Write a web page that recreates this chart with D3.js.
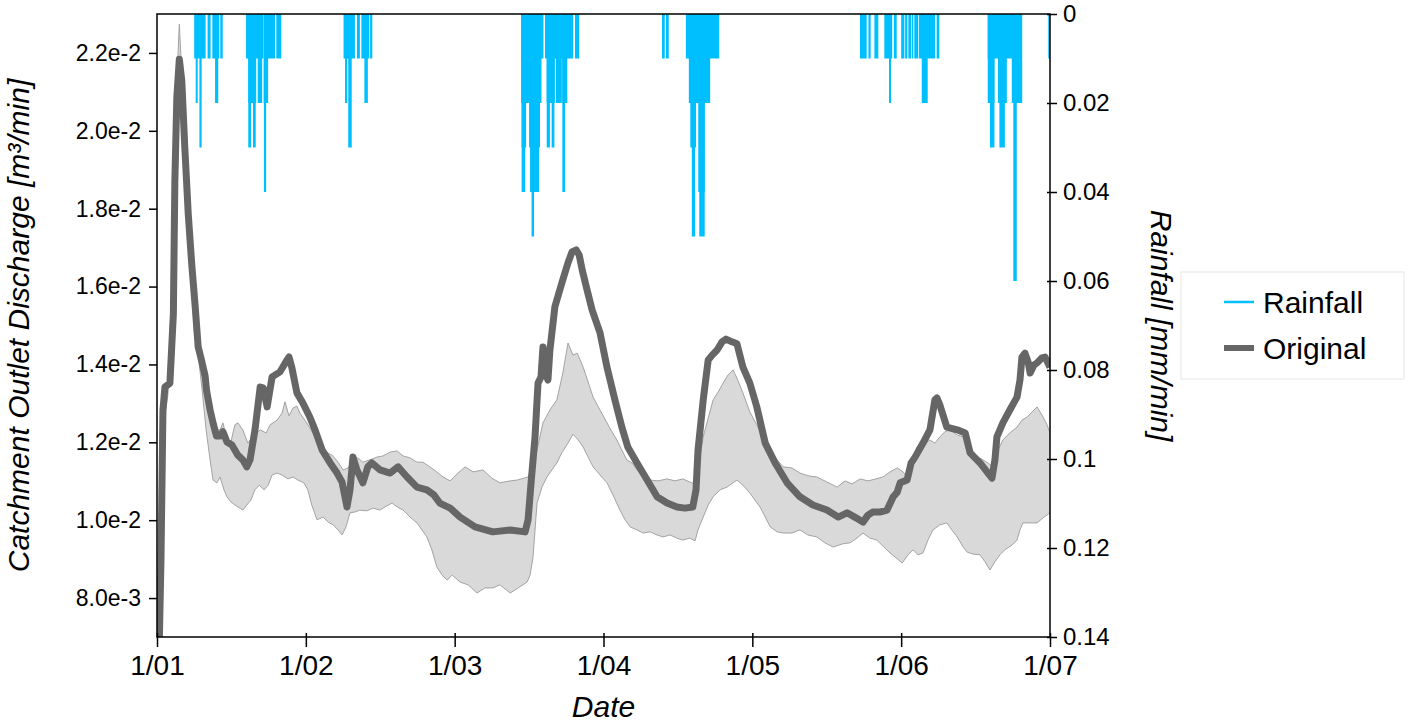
<!DOCTYPE html>
<html>
<head>
<meta charset="utf-8">
<script src="https://cdn.jsdelivr.net/npm/d3@7"></script>
<style>
  body { margin: 0; background: #fff; }
  text { font-family: "Liberation Sans", Arial, Helvetica, sans-serif; fill: #000; }
</style>
</head>
<body>
<script>
// x = days since 1/01 (the axis shows evenly spaced months, 30 days each)
var dayTicks = [0, 30, 60, 90, 120, 150, 180];
var dayLabels = ["1/01", "1/02", "1/03", "1/04", "1/05", "1/06", "1/07"];
var flowTicks = [0.008, 0.010, 0.012, 0.014, 0.016, 0.018, 0.020, 0.022];
var rainTicks = [0, 0.02, 0.04, 0.06, 0.08, 0.1, 0.12, 0.14];
var rainTickLabels = ["0", "0.02", "0.04", "0.06", "0.08", "0.1", "0.12", "0.14"];

// Original discharge [m3/min]
var original = [
  [0,0.0040],[0.8,0.00898],[1.2,0.01283],[1.6,0.01342],[2.6,0.01352],[3.3,0.01530],[3.6,0.01871],[4.0,0.02087],
  [4.5,0.02184],[5.0,0.02128],[5.6,0.01958],[6.3,0.01786],[7.0,0.01658],[7.7,0.01548],[8.3,0.01445],[9.0,0.01409],
  [9.7,0.01370],[10.0,0.01332],[10.7,0.01283],[11.35,0.01247],[12.0,0.01216],[12.7,0.01216],[13.3,0.01227],[14.1,0.01201],
  [15.1,0.01193],[16.3,0.01167],[17.3,0.01155],[18.1,0.01137],[18.75,0.01155],[19.75,0.01232],[20.8,0.01342],[21.4,0.01340],
  [22.2,0.01291],[23.2,0.01368],[24.8,0.01381],[26.2,0.01411],[26.6,0.01419],[27.2,0.01391],[28.2,0.01327],[29.4,0.01301],
  [30.8,0.01265],[31.85,0.01232],[33.3,0.01180],[34.9,0.01147],[36.3,0.01121],[37.3,0.01098],[38.3,0.01034],[38.9,0.01078],
  [39.5,0.01162],[40.3,0.01129],[41.5,0.01096],[42.5,0.01137],[43.3,0.01147],[44.95,0.01129],[47.0,0.01121],[48.6,0.01137],
  [50.4,0.01111],[52.4,0.01085],[54.4,0.01078],[55.8,0.01065],[57.0,0.01044],[59.1,0.01031],[61.1,0.01008],[64.1,0.00983],
  [67.7,0.00970],[71.2,0.00975],[74.2,0.00970],[74.8,0.01001],[75.4,0.01096],[76.2,0.01214],[76.8,0.01352],[77.4,0.01368],
  [77.8,0.01445],[78.4,0.01373],[78.8,0.01360],[79.2,0.01437],[80.2,0.01548],[81.6,0.01609],[82.85,0.01661],[83.65,0.01689],
  [84.5,0.01694],[85.1,0.01681],[85.7,0.01643],[86.7,0.01591],[87.7,0.01540],[89.3,0.01481],[90.7,0.01393],[92.3,0.01309],
  [93.7,0.01239],[94.9,0.01188],[96.75,0.01147],[98.8,0.01103],[100.8,0.01060],[102.8,0.01044],[104.8,0.01034],[106.4,0.01031],
  [108.0,0.01034],[108.65,0.01078],[109.05,0.01180],[110.1,0.01309],[111.1,0.01411],[111.9,0.01424],[112.9,0.01437],[113.9,0.01458],
  [114.7,0.01465],[115.9,0.01458],[116.9,0.01453],[118.1,0.01393],[119.5,0.01352],[120.9,0.01291],[122.6,0.01198],[124.6,0.01147],
  [127.0,0.01096],[129.6,0.01060],[132.2,0.01039],[135.05,0.01026],[137.3,0.01008],[139.1,0.01019],[140.9,0.01006],[142.3,0.00995],
  [143.3,0.01013],[144.3,0.01021],[145.7,0.01021],[147.15,0.01026],[148.4,0.01060],[149.2,0.01072],[149.8,0.01096],[151.2,0.01103],
  [152.0,0.01147],[152.8,0.01162],[154.4,0.01198],[155.8,0.01232],[156.8,0.01309],[157.2,0.01314],[157.8,0.01296],[159.2,0.01239],
  [161.3,0.01232],[162.9,0.01224],[163.9,0.01173],[165.9,0.01147],[167.5,0.01121],[168.3,0.01108],[168.9,0.01155],[169.3,0.01214],
  [170.5,0.01250],[171.9,0.01283],[173.35,0.01316],[173.95,0.01360],[174.35,0.01419],[174.95,0.01429],[175.6,0.01406],[176.0,0.01378],
  [176.8,0.01399],[177.4,0.01404],[178.4,0.01417],[179.0,0.01419],[180,0.01393]
];

// upper edge of the grey band [m3/min]
var bandUpper = [
  [0,0.0054],[0.8,0.00847],[1.4,0.01309],[2.6,0.01365],[3.4,0.01745],[4.0,0.02131],[4.5,0.02274],[5.0,0.02143],
  [5.85,0.01951],[6.65,0.01720],[7.7,0.01540],[8.7,0.01437],[9.7,0.01373],[10.7,0.01283],[11.7,0.01232],[12.7,0.01232],
  [13.3,0.01250],[14.1,0.01206],[14.9,0.01201],[15.7,0.01245],[16.3,0.01250],[17.3,0.01232],[18.3,0.01198],[19.55,0.01219],
  [20.8,0.01232],[22.0,0.01224],[22.8,0.01245],[24.2,0.01257],[25.2,0.01275],[25.8,0.01304],[26.6,0.01268],[27.4,0.01288],
  [28.2,0.01293],[28.8,0.01275],[29.8,0.01257],[30.8,0.01237],[31.85,0.01214],[32.9,0.01193],[34.1,0.01175],[35.3,0.01167],
  [36.5,0.01149],[37.5,0.01129],[38.5,0.01134],[39.5,0.01155],[40.5,0.01160],[41.5,0.01149],[42.9,0.01155],[44.35,0.01162],
  [45.55,0.01165],[47.0,0.01175],[48.4,0.01178],[49.6,0.01165],[51.0,0.01160],[52.4,0.01149],[53.6,0.01149],[55.0,0.01137],
  [56.4,0.01124],[57.65,0.01111],[59.1,0.01101],[60.5,0.01119],[62.1,0.01137],[63.7,0.01124],[65.7,0.01129],[67.5,0.01108],
  [69.1,0.01096],[71.2,0.01101],[72.6,0.01103],[74.8,0.01111],[75.8,0.01142],[76.6,0.01180],[77.8,0.01250],[79.2,0.01283],
  [80.6,0.01309],[81.8,0.01378],[82.85,0.01455],[83.85,0.01424],[84.7,0.01429],[85.9,0.01393],[86.9,0.01355],[87.9,0.01316],
  [89.3,0.01283],[90.7,0.01250],[91.7,0.01227],[92.7,0.01206],[93.7,0.01180],[94.7,0.01155],[95.75,0.01147],[96.75,0.01129],
  [98.0,0.01114],[99.4,0.01103],[101.0,0.01101],[102.8,0.01106],[104.4,0.01101],[106.0,0.01106],[107.4,0.01098],[108.45,0.01093],
  [109.25,0.01142],[110.1,0.01214],[111.1,0.01262],[112.1,0.01309],[113.1,0.01329],[114.1,0.01352],[115.1,0.01373],[116.1,0.01386],
  [116.9,0.01365],[118.1,0.01327],[119.5,0.01278],[120.9,0.01245],[122.15,0.01211],[123.6,0.01180],[125.0,0.01155],[126.2,0.01137],
  [128.0,0.01134],[129.6,0.01121],[131.2,0.01114],[133.0,0.01111],[135.05,0.01098],[137.1,0.01085],[138.7,0.01101],[140.1,0.01093],
  [141.7,0.01106],[143.3,0.01101],[144.9,0.01106],[146.3,0.01111],[147.75,0.01124],[149.2,0.01134],[150.4,0.01124],[151.2,0.01111],
  [152.2,0.01155],[153.2,0.01188],[154.4,0.01193],[155.8,0.01206],[156.8,0.01198],[157.8,0.01214],[158.8,0.01227],[159.8,0.01232],
  [161.3,0.01219],[162.5,0.01214],[163.9,0.01188],[165.3,0.01162],[166.5,0.01155],[167.5,0.01147],[168.5,0.01137],[169.5,0.01180],
  [170.5,0.01206],[171.9,0.01224],[173.35,0.01239],[174.35,0.01257],[175.4,0.01265],[176.4,0.01278],[177.4,0.01291],[178.6,0.01265],
  [179.4,0.01245],[180,0.01224]
];

// lower edge of the grey band [m3/min]
var bandLower = [
  [0,0.0040],[0.8,0.00692],[1.2,0.01232],[2.2,0.01322],[3.0,0.01617],[3.8,0.02053],[4.5,0.02177],[5.0,0.02092],
  [5.85,0.01899],[6.65,0.01681],[7.5,0.01488],[8.3,0.01424],[9.1,0.01334],[9.9,0.01232],[10.7,0.01155],[11.3,0.01103],
  [12.1,0.01096],[12.7,0.01111],[13.5,0.01078],[14.1,0.01060],[14.9,0.01047],[15.7,0.01039],[16.7,0.01031],[17.3,0.01026],
  [18.1,0.01039],[18.95,0.01052],[19.75,0.01078],[20.6,0.01090],[21.6,0.01078],[22.4,0.01090],[23.2,0.01116],[24.2,0.01121],
  [25.2,0.01116],[26.4,0.01106],[27.4,0.01111],[28.4,0.01103],[29.6,0.01096],[30.4,0.01078],[31.2,0.01039],[32.25,0.01001],
  [33.5,0.01008],[34.5,0.00995],[35.5,0.00988],[36.5,0.00975],[37.3,0.00962],[38.1,0.00983],[38.9,0.01019],[39.9,0.01021],
  [40.9,0.01026],[42.3,0.01024],[43.5,0.01031],[44.95,0.01026],[46.2,0.01036],[47.4,0.01044],[48.4,0.01034],[49.6,0.01026],
  [51.0,0.01008],[52.4,0.00993],[53.4,0.00975],[54.4,0.00957],[55.4,0.00924],[56.4,0.00880],[57.45,0.00859],[58.5,0.00846],
  [59.5,0.00859],[61.1,0.00841],[62.7,0.00834],[64.5,0.00813],[66.1,0.00826],[67.7,0.00826],[69.1,0.00834],[71.2,0.00813],
  [72.8,0.00826],[74.6,0.00841],[75.2,0.00859],[75.8,0.00906],[76.6,0.01044],[77.6,0.01085],[78.6,0.01111],[79.6,0.01129],
  [80.6,0.01147],[81.6,0.01173],[82.85,0.01198],[83.85,0.01221],[84.9,0.01206],[85.9,0.01188],[86.9,0.01162],[87.9,0.01137],
  [89.3,0.01116],[90.7,0.01096],[91.9,0.01065],[93.3,0.01026],[94.35,0.01001],[95.35,0.00983],[96.75,0.00975],[98.0,0.00967],
  [99.4,0.00970],[100.8,0.00962],[102.0,0.00957],[103.4,0.00962],[104.8,0.00954],[106.0,0.00949],[107.4,0.00954],[108.45,0.00947],
  [109.05,0.00975],[110.1,0.01008],[111.1,0.01039],[112.1,0.01060],[113.5,0.01078],[114.9,0.01085],[116.1,0.01096],[116.9,0.01103],
  [118.1,0.01090],[119.5,0.01070],[120.5,0.01052],[121.55,0.01034],[122.6,0.01008],[123.6,0.00983],[125.0,0.00970],[126.2,0.00967],
  [128.0,0.00967],[129.6,0.00975],[131.2,0.00962],[133.0,0.00957],[134.6,0.00942],[136.3,0.00931],[138.1,0.00939],[139.7,0.00942],
  [141.1,0.00954],[142.3,0.00967],[143.7,0.00954],[145.1,0.00949],[146.5,0.00931],[147.75,0.00916],[149.0,0.00903],[150.2,0.00890],
  [151.4,0.00911],[152.4,0.00924],[153.4,0.00911],[154.4,0.00916],[155.4,0.00949],[156.4,0.00975],[157.8,0.00988],[159.2,0.00993],
  [160.2,0.00975],[161.3,0.00957],[162.5,0.00931],[163.3,0.00918],[164.5,0.00913],[165.9,0.00911],[166.9,0.00893],[167.9,0.00872],
  [168.9,0.00893],[169.9,0.00911],[170.9,0.00924],[172.35,0.00936],[173.35,0.00949],[173.95,0.00975],[174.55,0.00993],[176.0,0.00993],
  [177.4,0.00993],[178.6,0.01006],[180,0.01019]
];

// rainfall [mm/min] : [start day, end day, intensity]
var rainfall = [
  [7.5,9.8,0.01],[7.8,8.2,0.02],[8.55,9.0,0.03],[10.2,10.8,0.01],[11.15,12.55,0.01],[11.7,12.35,0.02],[12.75,13.25,0.01],
  [17.95,21.4,0.01],[18.4,20.0,0.02],[18.4,18.95,0.03],[19.35,19.9,0.03],[20.3,21.2,0.02],[21.5,23.8,0.01],[21.5,22.4,0.02],[21.55,22.0,0.04],[24.05,25.05,0.01],
  [37.6,39.9,0.01],[37.9,38.35,0.02],[38.55,39.25,0.03],[40.3,40.9,0.01],[41.2,42.8,0.01],[41.8,42.5,0.02],[42.95,43.4,0.01],
  [73.4,77.9,0.01],[73.4,77.5,0.02],[73.5,74.4,0.03],[73.5,74.2,0.04],[75.0,77.2,0.03],[75.2,76.2,0.04],[75.5,76.0,0.05],[76.2,77.0,0.04],
  [78.2,81.7,0.01],[78.55,80.2,0.02],[78.55,79.2,0.03],[79.55,80.1,0.03],[80.4,81.6,0.02],[81.7,83.9,0.01],[81.7,82.7,0.02],[81.7,82.25,0.04],[84.25,85.1,0.01],
  [101.8,102.35,0.01],[102.6,103.15,0.01],
  [106.6,113.3,0.01],[107.2,111.5,0.02],[107.5,108.65,0.03],[107.8,108.45,0.05],[109.1,110.4,0.04],[109.3,110.4,0.05],
  [141.7,143.05,0.01],[143.4,143.85,0.01],[144.6,145.4,0.01],[146.6,148.2,0.01],[147.55,147.95,0.02],[148.55,149.1,0.01],
  [150.0,150.65,0.01],[150.8,151.25,0.01],[151.45,152.0,0.01],[152.15,152.45,0.01],[152.65,153.45,0.01],[153.6,156.85,0.01],[154.15,155.35,0.02],[157.15,157.7,0.01],
  [167.45,174.3,0.01],[167.45,168.8,0.02],[169.5,171.3,0.02],[172.3,174.4,0.02],[167.9,168.8,0.03],[169.8,170.9,0.03],[172.6,173.3,0.06],
  [179.65,180,0.01]
];

var W = 1408, H = 725;
var margin = {top: 14, right: 358, bottom: 88, left: 157};
var width = W - margin.left - margin.right;   // 893
var height = H - margin.top - margin.bottom;  // 623

var svg = d3.select("body").append("svg")
  .attr("width", W)
  .attr("height", H);

var g = svg.append("g")
  .attr("transform", "translate(" + margin.left + "," + margin.top + ")");

var x = d3.scaleLinear().domain([0, 180]).range([0, width]);
var y = d3.scaleLinear().domain([0.007, 0.023]).range([height, 0]);
var yRain = d3.scaleLinear().domain([0, 0.14]).range([0, height]);

g.append("clipPath").attr("id", "plotclip")
  .append("rect").attr("width", width).attr("height", height);

var plot = g.append("g").attr("clip-path", "url(#plotclip)");

// grey band
var lineGen = d3.line().x(function(d){ return x(d[0]); }).y(function(d){ return y(d[1]); });
var bandPoly = bandUpper.concat(bandLower.slice().reverse());
plot.append("path")
  .attr("d", lineGen(bandPoly) + "Z")
  .attr("fill", "#d9d9d9")
  .attr("stroke", "none");
plot.append("path").attr("d", lineGen(bandUpper))
  .attr("fill", "none").attr("stroke", "#a3a3a3").attr("stroke-width", 1);
plot.append("path").attr("d", lineGen(bandLower))
  .attr("fill", "none").attr("stroke", "#a3a3a3").attr("stroke-width", 1);

// rainfall bars hanging from the top
plot.append("g")
  .selectAll("rect")
  .data(rainfall)
  .enter()
  .append("rect")
  .attr("x", function(d){ return x(d[0]); })
  .attr("width", function(d){ return Math.max(1, x(d[1]) - x(d[0])); })
  .attr("y", yRain(0))
  .attr("height", function(d){ return yRain(d[2]); })
  .attr("fill", "#00bfff");

// original line
plot.append("path")
  .attr("d", lineGen(original))
  .attr("fill", "none")
  .attr("stroke", "#666666")
  .attr("stroke-width", 7)
  .attr("stroke-linejoin", "round");

// frame
g.append("rect")
  .attr("width", width).attr("height", height)
  .attr("fill", "none").attr("stroke", "#000").attr("stroke-width", 1.5);

// axes
var yAxis = g.append("g")
  .call(d3.axisLeft(y).tickValues(flowTicks).tickFormat(d3.format(".1e")).tickSize(8).tickPadding(8).tickSizeOuter(0));
yAxis.select(".domain").remove();
yAxis.selectAll("text").style("font-size", "23px");
yAxis.selectAll("line").attr("stroke-width", 1.5);

var xAxis = g.append("g")
  .attr("transform", "translate(0," + height + ")")
  .call(d3.axisBottom(x).tickValues(dayTicks).tickFormat(function(d, i){ return dayLabels[i]; }).tickSize(10).tickPadding(8).tickSizeOuter(0));
xAxis.select(".domain").remove();
xAxis.selectAll("line").attr("y1", -4).attr("stroke-width", 1.5);
xAxis.selectAll("text").style("font-size", "28px");

var rAxis = g.append("g")
  .attr("transform", "translate(" + width + ",0)")
  .call(d3.axisRight(yRain).tickValues(rainTicks).tickFormat(function(d, i){ return rainTickLabels[i]; }).tickSize(7).tickPadding(6).tickSizeOuter(0));
rAxis.select(".domain").remove();
rAxis.selectAll("line").attr("x1", -3).attr("stroke-width", 1.5);
rAxis.selectAll("text").style("font-size", "24px");

// axis titles
svg.append("text")
  .attr("transform", "translate(29," + (margin.top + height / 2) + ") rotate(-90)")
  .attr("text-anchor", "middle")
  .style("font-size", "30px").style("font-style", "italic")
  .text("Catchment Outlet Discharge [m³/min]");

svg.append("text")
  .attr("transform", "translate(1151," + (margin.top + height / 2) + ") rotate(90)")
  .attr("text-anchor", "middle")
  .style("font-size", "30px").style("font-style", "italic")
  .text("Rainfall [mm/min]");

svg.append("text")
  .attr("x", margin.left + width / 2).attr("y", 717)
  .attr("text-anchor", "middle")
  .style("font-size", "30px").style("font-style", "italic")
  .text("Date");

// legend
var legend = svg.append("g").attr("transform", "translate(1181,272)");
legend.append("rect")
  .attr("width", 223).attr("height", 107)
  .attr("fill", "#fff").attr("stroke", "#e6e6e6").attr("stroke-width", 1);
var legendItems = [
  {label: "Rainfall", color: "#00bfff", w: 2.5},
  {label: "Original", color: "#666666", w: 6}
];
legendItems.forEach(function(d, i){
  var yy = 30 + i * 46;
  legend.append("line")
    .attr("x1", 43).attr("x2", 73).attr("y1", yy).attr("y2", yy)
    .attr("stroke", d.color).attr("stroke-width", d.w);
  legend.append("text")
    .attr("x", 82).attr("y", yy + 11)
    .style("font-size", "30px")
    .text(d.label);
});
</script>
</body>
</html>
